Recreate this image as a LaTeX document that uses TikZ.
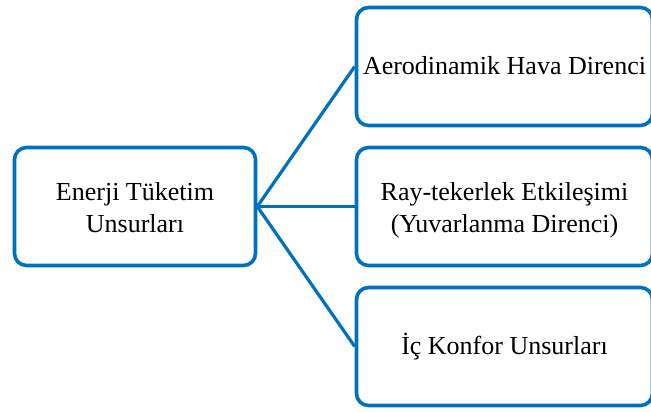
\documentclass[tikz,border=0pt]{standalone}
\usepackage{fontspec}
\setmainfont{Liberation Serif}
\definecolor{wordblue}{HTML}{0070C0}
\begin{document}
\begin{tikzpicture}[x=1pt,y=-1pt,
  box/.style={draw=wordblue, line width=3.6pt, rounded corners=12pt, fill=white,
    align=center, font=\fontsize{26}{32}\selectfont, text height=20pt, text depth=4pt,
    inner sep=0pt},
  twoline/.style={text height=56pt, text depth=4pt},
  leftbox/.style={box, minimum width=241pt, minimum height=118pt},
  rightbox/.style={box, minimum width=296pt, minimum height=118pt},
  link/.style={draw=wordblue, line width=3.2pt}]
\useasboundingbox (0,0) rectangle (651,412);
\clip (0,0) rectangle (651,412);
\node[leftbox, twoline] (root) at (135,206.5) {Enerji Tüketim\\Unsurları};
\node[rightbox] (a) at (504.5,66.5) {Aerodinamik Hava Direnci};
\node[rightbox, twoline] (b) at (504.5,206.5) {Ray-tekerlek Etkileşimi\\(Yuvarlanma Direnci)};
\node[rightbox] (c) at (504.5,346.5) {İç Konfor Unsurları};
\draw[link] (root.east) -- (a.west);
\draw[link] (root.east) -- (b.west);
\draw[link] (root.east) -- (c.west);
\end{tikzpicture}
\end{document}
